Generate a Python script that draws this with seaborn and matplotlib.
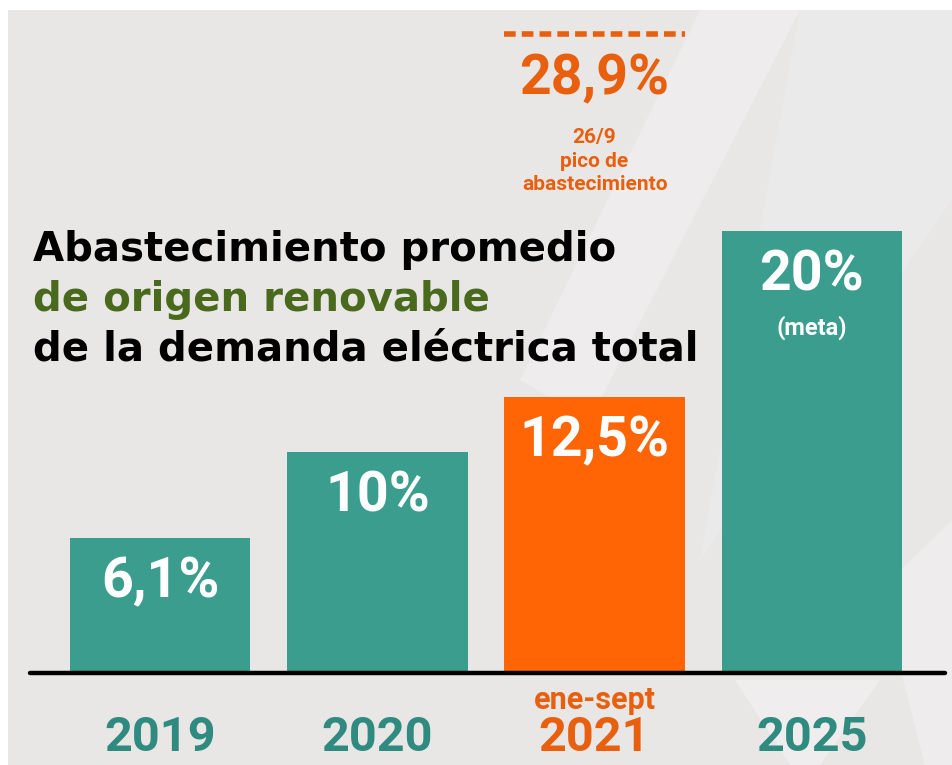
import numpy as np
import pandas as pd
import matplotlib
matplotlib.use('Agg')
import matplotlib.pyplot as plt
from matplotlib.patches import Polygon, Rectangle
import seaborn as sns

# datos
years = ['2019', '2020', '2021', '2025']
shares = [6.1, 10.0, 12.5, 20.0]
share_labels = ['6,1%', '10%', '12,5%', '20%']
peak_value = 28.9
peak_label = '28,9%'
peak_note = '26/9\npico de\nabastecimiento'

teal = '#3a9d8e'
orange = '#ff6405'
teal_txt = '#2f8a80'
orange_txt = '#e8600e'
bar_colors = [teal, teal, orange, teal]
year_colors = [teal_txt, teal_txt, orange_txt, teal_txt]
bg = '#e9e6e6'

sns.set_style('white')
plt.rcParams['font.family'] = ['DejaVu Sans']
num_font = ['Roboto', 'DejaVu Sans']

df = pd.DataFrame({'year': years, 'share': shares})

fig = plt.figure(figsize=(9.52, 7.65), dpi=100, facecolor=bg)

# fondo: bordes blancos y formas claras
def fig_poly(pts, color):
    p = Polygon([(x / 952, 1 - y / 765) for x, y in pts], closed=True,
                transform=fig.transFigure, color=color, zorder=-2, lw=0)
    fig.patches.append(p)

fig_poly([(700, 10), (800, 10), (590, 420), (520, 380)], '#eeecec')
fig_poly([(800, 10), (952, 10), (952, 200), (700, 560)], '#ebeaea')
fig_poly([(735, 680), (880, 680), (820, 765), (790, 765)], '#efeded')
fig_poly([(880, 590), (952, 520), (952, 765), (925, 765)], '#eeecec')
fig.patches.append(Rectangle((0, 1 - 10 / 765), 1, 10 / 765, transform=fig.transFigure,
                             color='white', zorder=-1, lw=0))
fig.patches.append(Rectangle((0, 0), 8 / 952, 1, transform=fig.transFigure,
                             color='white', zorder=-1, lw=0))

ax = fig.add_axes([0, 92 / 765, 1, 673 / 765])
ax.set_facecolor('none')

sns.barplot(data=df, x='year', y='share', hue='year', palette=bar_colors,
            width=0.83, saturation=1, legend=False, linewidth=0, ax=ax, zorder=2)

ax.set_xlim(-160 / 217, 3 + 140 / 217)
ax.set_ylim(0, 673 / 22.1)
ax.axis('off')

# linea base
ax.axhline(0, xmin=30 / 952, xmax=945 / 952, color='black', lw=3.2, zorder=3,
           clip_on=False)

# etiquetas dentro de las barras
for i, (v, lab) in enumerate(zip(shares, share_labels)):
    ax.text(i, v - 2.0, lab, ha='center', va='center', color='white',
            fontsize=40, fontweight='bold', family=num_font, zorder=4)
ax.text(3, shares[3] - 4.4, '(meta)', ha='center', va='center', color='white',
        fontsize=17, fontweight='bold', family=num_font, zorder=4)

# años
for i, (y, c) in enumerate(zip(years, year_colors)):
    ax.text(i, -2.95, y, ha='center', va='center', color=c,
            fontsize=35, fontweight='bold', family=num_font, clip_on=False)
ax.text(2, -1.2, 'ene-sept', ha='center', va='center', color=orange_txt,
        fontsize=22, fontweight='bold', family=num_font, clip_on=False)

# pico
ax.hlines(peak_value, 2 - 0.415, 2 + 0.415, colors=orange_txt, lw=4,
          linestyles=(0, (2.1, 1.1)), zorder=4)
ax.text(2, peak_value - 2.05, peak_label, ha='center', va='center', color=orange_txt,
        fontsize=40, fontweight='bold', family=num_font)
ax.text(2, peak_value - 5.75, peak_note, ha='center', va='center', color=orange_txt,
        fontsize=15, fontweight='bold', family=num_font, linespacing=1.3)

# titulo
title_x = 33 / 952
fig.text(title_x, 1 - 250 / 765, 'Abastecimiento promedio', ha='left', va='center',
         fontsize=29, fontweight='bold', color='black')
fig.text(title_x, 1 - 300 / 765, 'de origen renovable', ha='left', va='center',
         fontsize=29, fontweight='bold', color='#496a1c')
fig.text(title_x, 1 - 350 / 765, 'de la demanda eléctrica total', ha='left', va='center',
         fontsize=29, fontweight='bold', color='black')

fig.savefig('out.png', dpi=100, facecolor=bg)
